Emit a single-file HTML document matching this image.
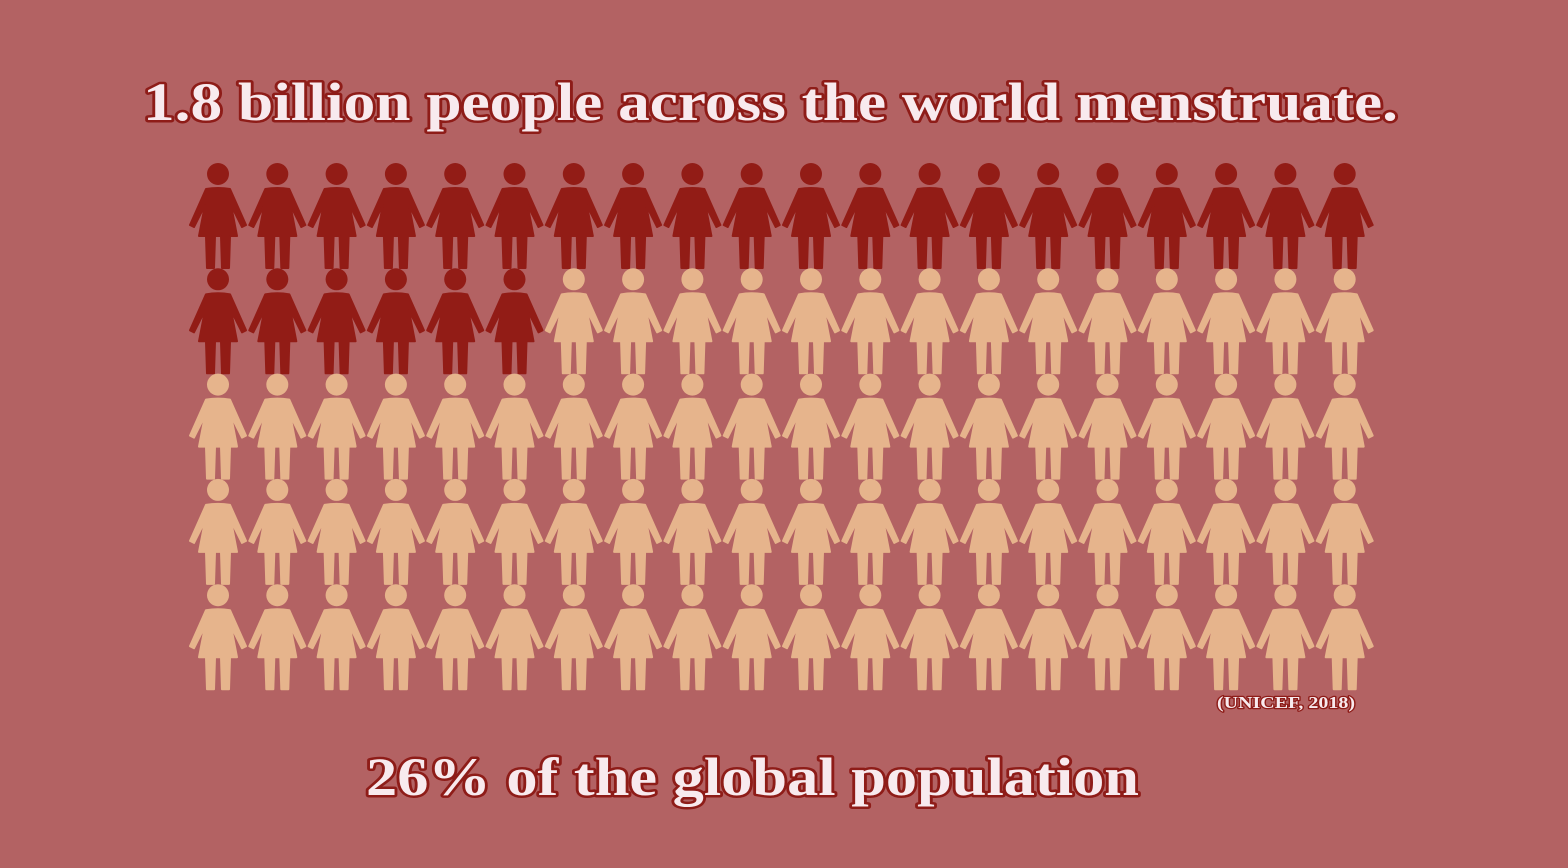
<!DOCTYPE html>
<html><head><meta charset="utf-8"><style>
html,body{margin:0;padding:0;background:#b36263;}
svg{display:block}
text{font-family:"Liberation Serif",serif;font-weight:bold;fill:#f8eaee;stroke:#8e1c18;paint-order:stroke;stroke-linejoin:round}
</style></head><body>
<svg id="chart" width="1568" height="868" viewBox="0 0 1568 868">
<rect width="1568" height="868" fill="#b36263"/>
<text x="143" y="120" font-size="54" stroke-width="5" textLength="1255" lengthAdjust="spacingAndGlyphs">1.8 billion people across the world menstruate.</text>
<g id="grid"></g>
<text x="1217" y="708" font-size="17" stroke-width="2.5" textLength="138" lengthAdjust="spacingAndGlyphs">(UNICEF, 2018)</text>
<text x="366" y="795" font-size="54" stroke-width="5" textLength="773" lengthAdjust="spacingAndGlyphs">26% of the global population</text>
</svg>
<script>
const percentHighlighted = [26];
const totalIcons = [100];
const gridColumns = [20];
const colors = ["#921c16", "#e6b48c"];
const g = document.getElementById('grid');
const x0 = 218, dx = 59.3, y0 = 163, dy = 105.3;
function fig(cx, ty, col) {
  const d = `M${cx-12},${ty+26} Q${cx},${ty+24} ${cx+12},${ty+26} L${cx+28},${ty+62} L${cx+24},${ty+64} L${cx+13},${ty+42} L${cx+19},${ty+73} L${cx+12},${ty+73} L${cx+11},${ty+105} L${cx+4},${ty+105} L${cx+3},${ty+73} L${cx-3},${ty+73} L${cx-4},${ty+105} L${cx-11},${ty+105} L${cx-12},${ty+73} L${cx-19},${ty+73} L${cx-13},${ty+42} L${cx-24},${ty+64} L${cx-28},${ty+62} Z`;
  return `<circle cx="${cx}" cy="${ty+11}" r="11" fill="${col}"/><path d="${d}" fill="${col}" stroke="${col}" stroke-width="2" stroke-linejoin="round"/>`;
}
for (let i = 0; i < totalIcons[0]; i++) {
  const c = i % gridColumns[0], r = Math.floor(i / gridColumns[0]);
  const el = document.createElementNS('http://www.w3.org/2000/svg', 'g');
  
  
  el.innerHTML = fig(x0 + c * dx, y0 + r * dy, i < percentHighlighted[0] ? colors[0] : colors[1]);
  g.appendChild(el);
}
</script>
</body></html>
